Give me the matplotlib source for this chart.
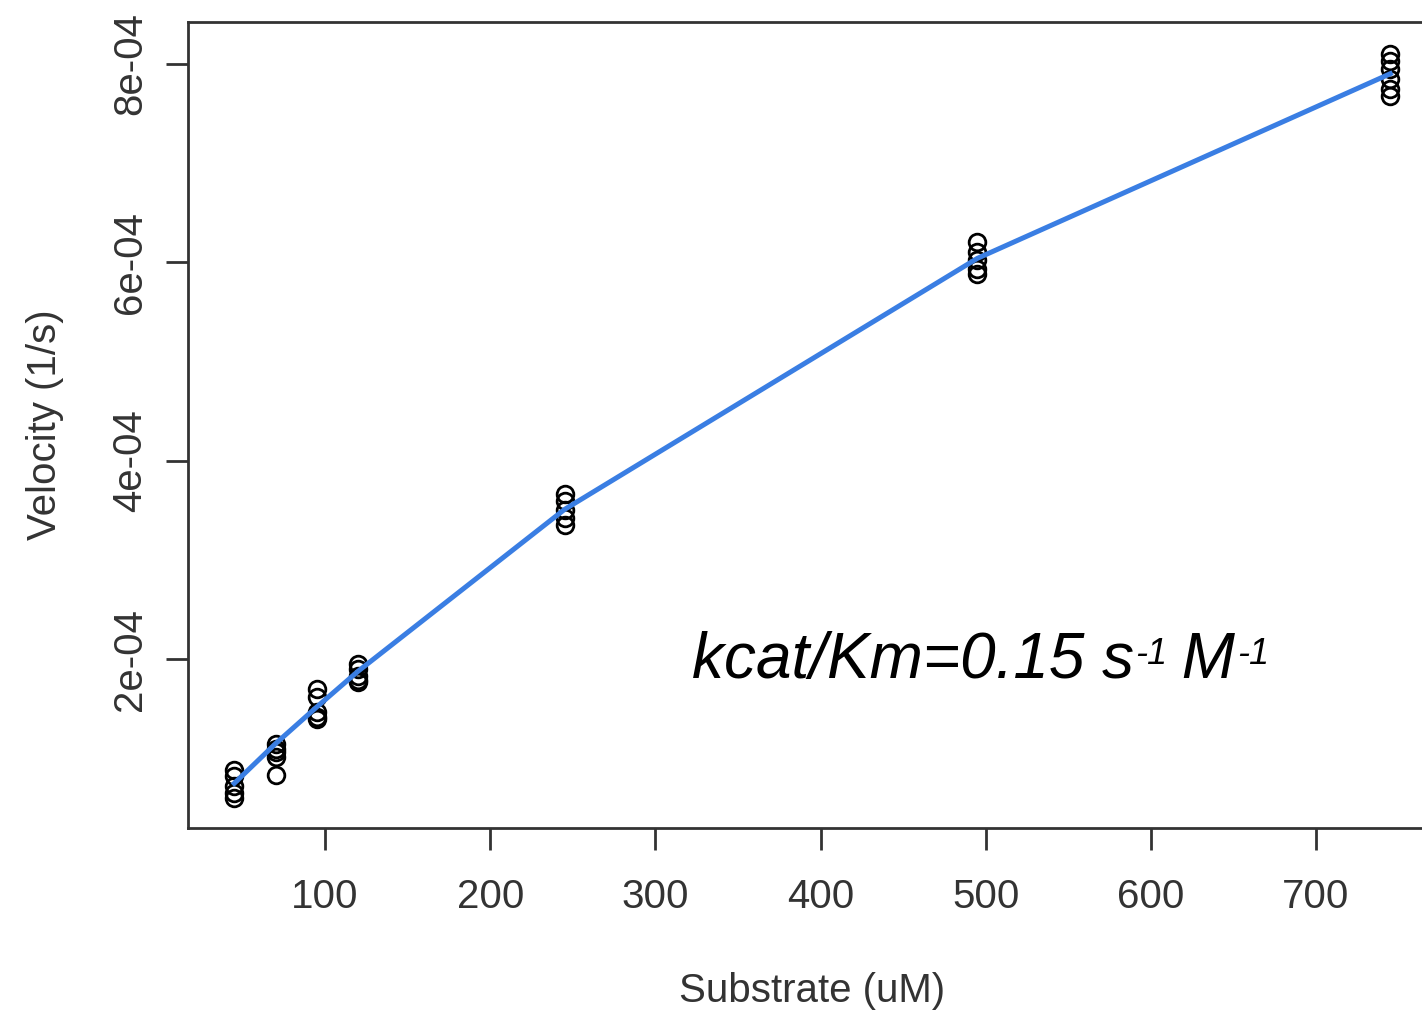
import numpy as np
import matplotlib
matplotlib.use("Agg")
import matplotlib.pyplot as plt

plt.rcParams['font.family'] = ['Liberation Sans', 'DejaVu Sans']

# substrate concentrations (uM) and replicate velocities (1/s)
substrate = [45, 70, 95, 120, 245, 495, 745]
velocity = [
    [0.88e-4, 0.82e-4, 0.72e-4, 0.65e-4, 0.60e-4],
    [1.15e-4, 1.10e-4, 1.07e-4, 1.02e-4, 0.83e-4],
    [1.70e-4, 1.62e-4, 1.47e-4, 1.42e-4, 1.40e-4],
    [1.95e-4, 1.90e-4, 1.83e-4, 1.79e-4, 1.77e-4],
    [3.67e-4, 3.60e-4, 3.50e-4, 3.42e-4, 3.35e-4],
    [6.20e-4, 6.10e-4, 6.02e-4, 5.93e-4, 5.88e-4],
    [8.10e-4, 8.03e-4, 7.95e-4, 7.85e-4, 7.75e-4, 7.68e-4],
]
# fitted curve values at each substrate
fitted = [0.75e-4, 1.15e-4, 1.52e-4, 1.88e-4, 3.51e-4, 6.04e-4, 7.90e-4]

xticks = [100, 200, 300, 400, 500, 600, 700]
yticks = [2e-4, 4e-4, 6e-4, 8e-4]
ytick_labels = ["2e-04", "4e-04", "6e-04", "8e-04"]

fig = plt.figure(figsize=(14.22, 10.15), dpi=100)
ax = fig.add_axes([0.1322, 0.1842, 0.878, 0.794])

for s, vs in zip(substrate, velocity):
    ax.plot([s] * len(vs), vs, 'o', mfc='none', mec='black', ms=12, mew=2)
ax.plot(substrate, fitted, color='#3a7ee3', lw=3.6)

ax.set_xlim(17, 773)
ax.set_ylim(0.30e-4, 8.42e-4)
ax.set_xticks(xticks)
ax.set_yticks(yticks)
ax.set_yticklabels(ytick_labels, rotation=90, va='center')
ax.tick_params(direction='out', length=16, width=2, colors='#333333',
               labelsize=29, pad=12)
ax.tick_params(axis='x', pad=20)
for sp in ax.spines.values():
    sp.set_linewidth(2)
    sp.set_color('#333333')

ax.set_xlabel("Substrate (uM)", fontsize=29, color='#333333', labelpad=40)
ax.set_ylabel("Velocity (1/s)", fontsize=29, color='#333333', labelpad=34)

# annotation built from pieces so the superscripts stay small
t1 = ax.text(322, 1.81e-4, "kcat/Km=0.15 s", fontsize=46, style='italic',
             va='baseline', ha='left', color='black')
ax.annotate("-1", xy=(1, 1), xycoords=t1, xytext=(1, -4),
            textcoords='offset points', fontsize=26, style='italic',
            va='top', ha='left')
t3 = ax.annotate(" M", xy=(1, 0), xycoords=t1, xytext=(22, 0),
                 textcoords='offset points', fontsize=46, style='italic',
                 va='bottom', ha='left')
ax.annotate("-1", xy=(1, 1), xycoords=t3, xytext=(1, -4),
            textcoords='offset points', fontsize=26, style='italic',
            va='top', ha='left')

plt.savefig("out.png")
